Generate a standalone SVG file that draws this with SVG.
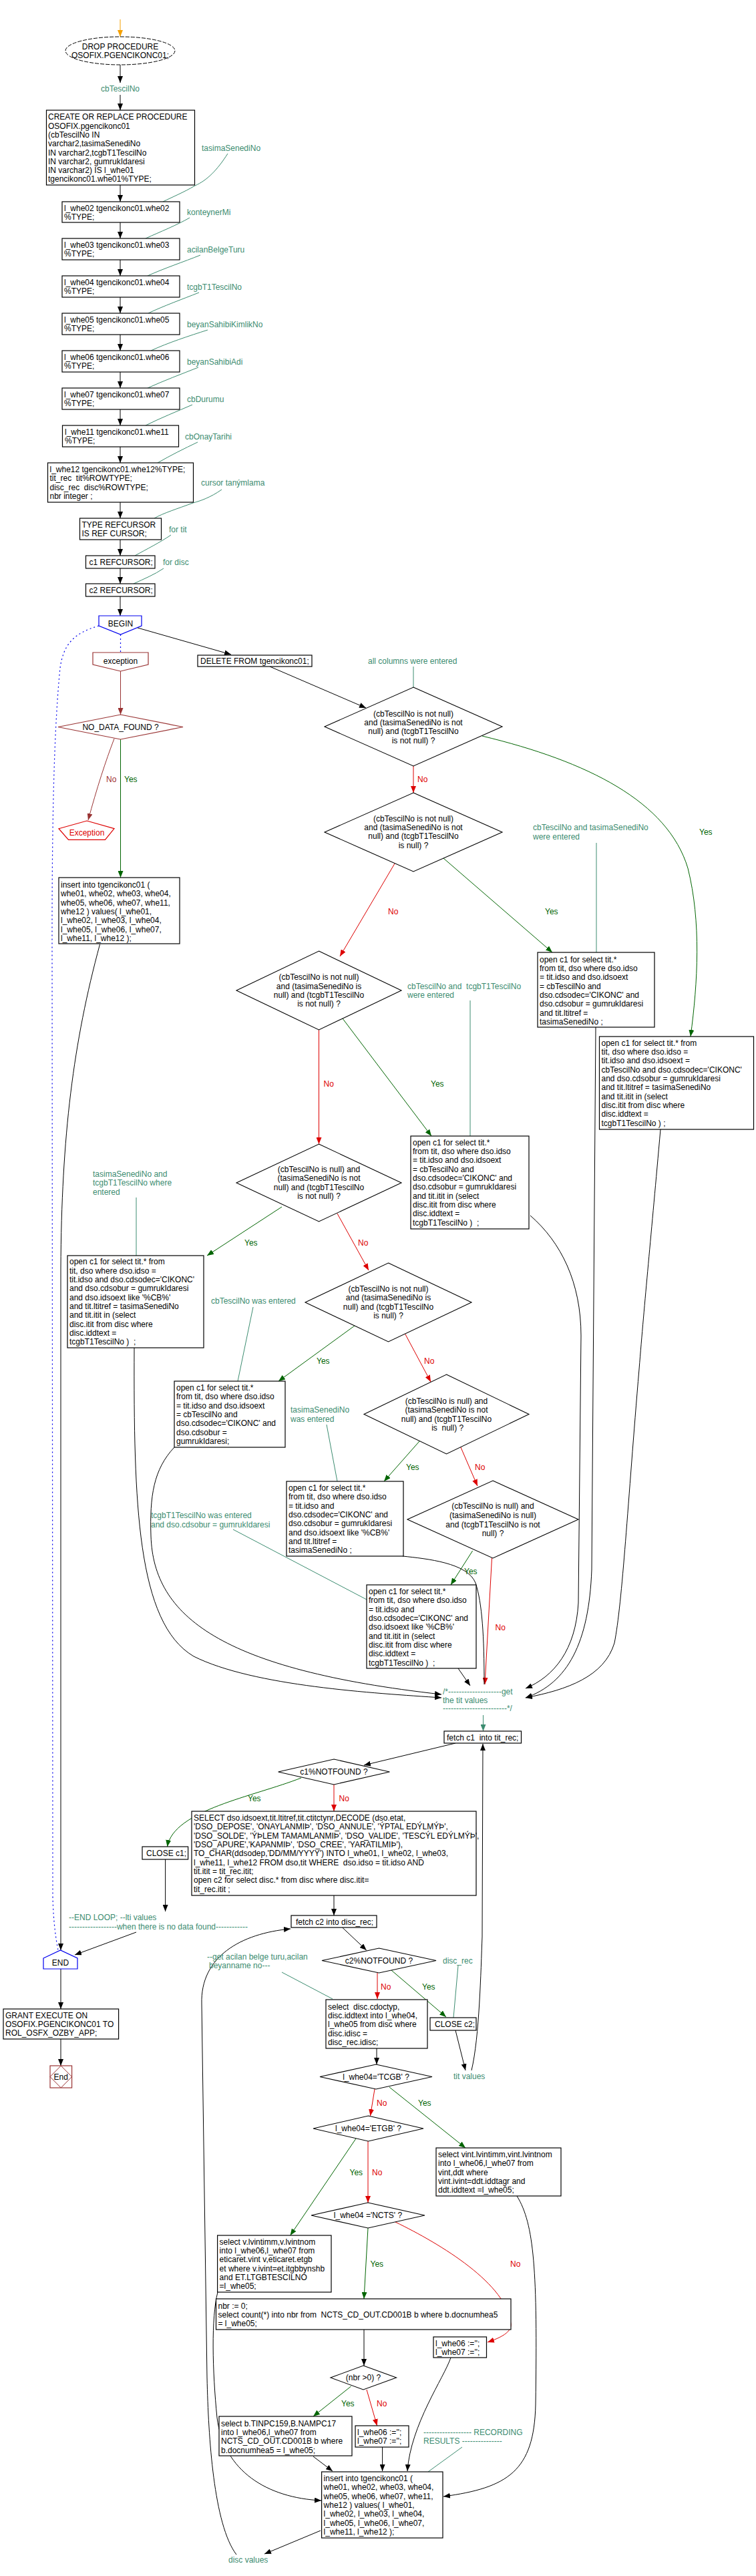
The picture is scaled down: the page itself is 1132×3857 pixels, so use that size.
<svg xmlns="http://www.w3.org/2000/svg" width="1132" height="3857" viewBox="0 0 1132 3857">
<defs>
<style>
text{font-family:"Liberation Sans",Arial,sans-serif;font-size:12px;fill:#000;white-space:pre}
.c{text-anchor:middle}
.lb{fill:#3c8c70}
.gt{fill:#006400}
.rt{fill:#dd0000}
.bt{fill:#a03030}
.box{fill:#fff;stroke:#000;stroke-width:1.2}
.dia{fill:#fff;stroke:#000;stroke-width:1.1}
.k{fill:none;stroke:#000;stroke-width:1}
.g{fill:none;stroke:#006400;stroke-width:1}
.r{fill:none;stroke:#dd0000;stroke-width:1}
.br{fill:none;stroke:#993333;stroke-width:1}
.tl{fill:none;stroke:#3c8c70;stroke-width:1}
.bl{fill:none;stroke:#0000ee;stroke-width:1.2;stroke-dasharray:2 4}
</style>
<marker id="ak" viewBox="0 0 10 8" refX="10" refY="4" markerWidth="10" markerHeight="8" markerUnits="userSpaceOnUse" orient="auto"><path d="M0,0 L10,4 L0,8 z" fill="#000"/></marker>
<marker id="ag" viewBox="0 0 10 8" refX="10" refY="4" markerWidth="10" markerHeight="8" markerUnits="userSpaceOnUse" orient="auto"><path d="M0,0 L10,4 L0,8 z" fill="#006400"/></marker>
<marker id="ar" viewBox="0 0 10 8" refX="10" refY="4" markerWidth="10" markerHeight="8" markerUnits="userSpaceOnUse" orient="auto"><path d="M0,0 L10,4 L0,8 z" fill="#dd0000"/></marker>
<marker id="ab" viewBox="0 0 10 8" refX="10" refY="4" markerWidth="10" markerHeight="8" markerUnits="userSpaceOnUse" orient="auto"><path d="M0,0 L10,4 L0,8 z" fill="#993333"/></marker>
<marker id="at" viewBox="0 0 10 8" refX="10" refY="4" markerWidth="10" markerHeight="8" markerUnits="userSpaceOnUse" orient="auto"><path d="M0,0 L10,4 L0,8 z" fill="#3c8c70"/></marker>
<marker id="ao" viewBox="0 0 10 8" refX="10" refY="4" markerWidth="10" markerHeight="8" markerUnits="userSpaceOnUse" orient="auto"><path d="M0,0 L10,4 L0,8 z" fill="#f5a000"/></marker>
</defs>
<rect width="1132" height="3857" fill="#fff"/>

<g id="connectors">
<path d="M180,29 L180,55" stroke="#f5a000" stroke-width="1" fill="none" marker-end="url(#ao)"/>
<path class="k" d="M180,97 L180,124" marker-end="url(#ak)"/>
<path class="k" d="M180,142 L180,165" marker-end="url(#ak)"/>
<path class="k" d="M180,277 L180,302" marker-end="url(#ak)"/>
<path class="k" d="M180,333 L180,357" marker-end="url(#ak)"/>
<path class="k" d="M180,389 L180,413" marker-end="url(#ak)"/>
<path class="k" d="M180,445 L180,469" marker-end="url(#ak)"/>
<path class="k" d="M180,501 L180,525" marker-end="url(#ak)"/>
<path class="k" d="M180,557 L180,581" marker-end="url(#ak)"/>
<path class="k" d="M180,613 L180,637" marker-end="url(#ak)"/>
<path class="k" d="M180,669 L180,693" marker-end="url(#ak)"/>
<path class="k" d="M180,752 L180,776" marker-end="url(#ak)"/>
<path class="k" d="M180,808 L180,832" marker-end="url(#ak)"/>
<path class="k" d="M180,851 L180,874" marker-end="url(#ak)"/>
<path class="k" d="M180,893 L180,922" marker-end="url(#ak)"/>
<!-- leaders top -->
<path class="tl" d="M341,230 C325,255 310,270 292,278 C275,288 258,295 244,302"/>
<path class="tl" d="M284,326 C265,337 240,347 218,357"/>
<path class="tl" d="M300,382 C275,392 245,402 221,413"/>
<path class="tl" d="M298,438 C273,448 245,458 222,469"/>
<path class="tl" d="M311,494 C283,503 252,513 226,525"/>
<path class="tl" d="M297,550 C272,560 245,570 221,581"/>
<path class="tl" d="M288,606 C265,616 240,626 218,637"/>
<path class="tl" d="M296,662 C275,672 255,682 236,693"/>
<path class="tl" d="M332,733 C315,745 300,750 289,753 C265,762 245,768 231,776"/>
<path class="tl" d="M256,801 C240,812 220,822 202,832"/>
<path class="tl" d="M245,851 C232,860 215,867 200,874"/>
<!-- begin -->
<path class="k" d="M206,940 L346,980" marker-end="url(#ak)"/>
<path class="bl" d="M180.5,950 L180.5,977"/>
<path class="bl" d="M148,937 C110,948 95,965 90,1000 C82,1080 78,1200 78,1400 L79,2840 C80,2880 84,2905 87,2920"/>
<path class="k" d="M404,998 L548,1060" marker-end="url(#ak)"/>
<!-- exception path -->
<path class="br" d="M180.5,1005 L180.5,1070" marker-end="url(#ab)"/>
<path class="br" d="M171,1106 C158,1140 145,1180 132,1228" marker-end="url(#ab)"/>
<path class="g" d="M180.5,1107 L180.5,1314" marker-end="url(#ag)"/>
<path class="k" d="M149.5,1414 C110,1560 92,1700 91,1900 L91,2920" marker-end="url(#ak)"/>
<!-- decision chain -->
<path class="tl" d="M619,998 L619,1029"/>
<path class="r" d="M619,1147 L619,1187" marker-end="url(#ar)"/>
<path class="g" d="M722,1102 C880,1140 1000,1200 1030,1300 C1050,1380 1045,1470 1034,1552" marker-end="url(#ag)"/>
<path class="tl" d="M893,1262 L893,1426"/>
<path class="g" d="M664,1285 L827,1426" marker-end="url(#ag)"/>
<path class="r" d="M591,1293 L509,1432" marker-end="url(#ar)"/>
<path class="tl" d="M704,1498 L704,1701"/>
<path class="g" d="M513,1525 L646,1701" marker-end="url(#ag)"/>
<path class="r" d="M477.5,1542 L477.5,1713" marker-end="url(#ar)"/>
<path class="tl" d="M204,1793 L204,1880"/>
<path class="g" d="M422,1807 L310,1880" marker-end="url(#ag)"/>
<path class="r" d="M505,1817 L552,1902" marker-end="url(#ar)"/>
<path class="tl" d="M379,1957 L356,2068"/>
<path class="g" d="M531,1985 L417,2068" marker-end="url(#ag)"/>
<path class="r" d="M606.5,1997 L645,2069" marker-end="url(#ar)"/>
<path class="tl" d="M489,2133 L505,2218"/>
<path class="g" d="M628,2158 L575,2218" marker-end="url(#ag)"/>
<path class="r" d="M689.5,2166 L715,2225" marker-end="url(#ar)"/>
<path class="tl" d="M349,2290 L549,2395"/>
<path class="g" d="M707.6,2322 L675,2373" marker-end="url(#ag)"/>
<path class="r" d="M736.5,2333 L726,2522" marker-end="url(#ar)"/>
<!-- into tit values comment -->
<path class="k" d="M686,2498 L704,2524" marker-end="url(#ak)"/>
<path class="k" d="M603,2330 C640,2334 700,2340 712,2370 C722,2400 725,2450 725,2522"/>
<path class="k" d="M201,2018 C200,2250 205,2430 290,2480 C380,2525 560,2535 661,2542" marker-end="url(#ak)"/>
<path class="k" d="M261,2167 C230,2200 224,2240 226,2300 C230,2420 330,2500 661,2537" marker-end="url(#ak)"/>
<path class="k" d="M794,1820 C840,1860 870,1920 870,2000 L866,2400 C862,2470 830,2510 787,2528" marker-end="url(#ak)"/>
<path class="k" d="M892,1538 L886,2350 C882,2460 850,2520 787,2542" marker-end="url(#ak)"/>
<path class="k" d="M989,1691 C975,1850 965,1950 957,2050 C940,2250 932,2400 920,2460 C905,2510 850,2530 787,2542" marker-end="url(#ak)"/>
<path class="tl" d="M723.5,2568 L723.5,2592" marker-end="url(#at)"/>
<!-- loop c1 -->
<path class="k" d="M682,2610 L545,2643" marker-end="url(#ak)"/>
<path class="g" d="M451,2662 C380,2690 260,2710 250.5,2765" marker-end="url(#ag)"/>
<path class="r" d="M500,2672 L500,2712" marker-end="url(#ar)"/>
<path class="k" d="M247.6,2784 L247.6,2862" marker-end="url(#ak)"/>
<path class="k" d="M204,2893 L112,2927" marker-end="url(#ak)"/>
<path class="k" d="M500,2838 L500,2868" marker-end="url(#ak)"/>
<path class="k" d="M512.6,2886 L548.7,2920" marker-end="url(#ak)"/>
<path class="r" d="M565,2954 L565,2993" marker-end="url(#ar)"/>
<path class="g" d="M586,2950 L668,3020" marker-end="url(#ag)"/>
<path class="tl" d="M686,2943 L679,3021"/>
<path class="tl" d="M422,2953 L498,2993"/>
<path class="k" d="M682,3040 L697,3100" marker-end="url(#ak)"/>
<path class="k" d="M706,3100 C718,3050 720,2950 722,2900 L723,2611" marker-end="url(#ak)"/>
<path class="k" d="M564,3067 L564,3091" marker-end="url(#ak)"/>
<path class="r" d="M561,3128 L554.5,3168" marker-end="url(#ar)"/>
<path class="g" d="M583,3125 L697,3216" marker-end="url(#ag)"/>
<path class="g" d="M533,3202 L434.6,3347" marker-end="url(#ag)"/>
<path class="r" d="M551,3206 L551,3298" marker-end="url(#ar)"/>
<path class="g" d="M551,3336 L545,3442" marker-end="url(#ag)"/>
<path class="r" d="M592,3327 C660,3360 760,3420 765,3480 C766,3492 750,3500 730,3507" marker-end="url(#ar)"/>
<path class="k" d="M545,3488 L545,3542" marker-end="url(#ak)"/>
<path class="g" d="M525.6,3573 L469,3618" marker-end="url(#ag)"/>
<path class="r" d="M549,3578 L564.6,3632" marker-end="url(#ar)"/>
<path class="k" d="M469,3678 L498,3700" marker-end="url(#ak)"/>
<path class="k" d="M572.6,3664 L572.6,3700" marker-end="url(#ak)"/>
<path class="k" d="M675,3530 C665,3560 615,3630 610,3700" marker-end="url(#ak)"/>
<path class="k" d="M774,3288 C800,3330 805,3400 802,3600 C800,3700 760,3725 664,3738" marker-end="url(#ak)"/>
<path class="k" d="M326,3432 C316,3470 318,3550 325,3620 C335,3700 400,3740 481,3744" marker-end="url(#ak)"/>
<path class="tl" d="M692,3664 L641,3701"/>
<path class="k" d="M480,3789 L396,3824" marker-end="url(#ak)"/>
<path class="k" d="M354,3825 C320,3780 312,3650 310,3560 L302,3000 C300,2930 360,2895 435,2888" marker-end="url(#ak)"/>
<path class="k" d="M91,2948 L91,3008" marker-end="url(#ak)"/>
<path class="k" d="M91,3053 L91,3093" marker-end="url(#ak)"/>
</g>

<g id="n_drop"><ellipse cx="180" cy="76" rx="82" ry="21" fill="#fff" stroke="#000" stroke-width="1" stroke-dasharray="6 2"/>
<text class="c" x="180" y="74">DROP PROCEDURE</text><text class="c" x="180" y="87">OSOFIX.PGENCIKONC01;</text></g>
<g id="l_cbTescilNo"><text class="c lb" x="180" y="137">cbTescilNo</text></g>
<g id="n_create"><rect class="box" x="69.5" y="165" width="222" height="112"/>
<text x="72" y="179">CREATE OR REPLACE PROCEDURE</text><text x="72" y="193">OSOFIX.pgencikonc01</text><text x="72" y="206">(cbTescilNo IN</text><text x="72" y="219">varchar2,tasimaSenediNo</text><text x="72" y="233">IN varchar2,tcgbT1TescilNo</text><text x="72" y="246">IN varchar2, gumrukIdaresi</text><text x="72" y="259">IN varchar2) IS l_whe01</text><text x="72" y="272">tgencikonc01.whe01%TYPE;</text></g>
<g id="n_whe02"><rect class="box" x="93" y="302" width="176" height="31"/><text x="96" y="315.5">l_whe02 tgencikonc01.whe02</text><text x="96" y="328.5">%TYPE;</text></g>
<g id="n_whe03"><rect class="box" x="93" y="357" width="176" height="32"/><text x="96" y="371">l_whe03 tgencikonc01.whe03</text><text x="96" y="384">%TYPE;</text></g>
<g id="n_whe04"><rect class="box" x="93" y="413" width="176" height="32"/><text x="96" y="427">l_whe04 tgencikonc01.whe04</text><text x="96" y="440">%TYPE;</text></g>
<g id="n_whe05"><rect class="box" x="93" y="469" width="176" height="32"/><text x="96" y="483">l_whe05 tgencikonc01.whe05</text><text x="96" y="496">%TYPE;</text></g>
<g id="n_whe06"><rect class="box" x="93" y="525" width="176" height="32"/><text x="96" y="539">l_whe06 tgencikonc01.whe06</text><text x="96" y="552">%TYPE;</text></g>
<g id="n_whe07"><rect class="box" x="93" y="581" width="176" height="32"/><text x="96" y="595">l_whe07 tgencikonc01.whe07</text><text x="96" y="608">%TYPE;</text></g>
<g id="n_whe11"><rect class="box" x="93.5" y="637" width="174" height="32"/><text x="97" y="651">l_whe11 tgencikonc01.whe11</text><text x="97" y="664">%TYPE;</text></g>
<g id="n_whe12"><rect class="box" x="71.5" y="693" width="218" height="59"/><text x="74.5" y="707">l_whe12 tgencikonc01.whe12%TYPE;</text><text x="74.5" y="720">tit_rec  tit%ROWTYPE;</text><text x="74.5" y="734">disc_rec  disc%ROWTYPE;</text><text x="74.5" y="747">nbr integer ;</text></g>
<g id="n_type"><rect class="box" x="119.5" y="776" width="122" height="32"/><text x="122.5" y="790">TYPE REFCURSOR</text><text x="122.5" y="803">IS REF CURSOR;</text></g>
<g id="n_c1"><rect class="box" x="128.5" y="832" width="103.5" height="19"/><text x="133.5" y="846">c1 REFCURSOR;</text></g>
<g id="n_c2"><rect class="box" x="128.5" y="874" width="103.5" height="19"/><text x="133.5" y="888">c2 REFCURSOR;</text></g>
<g id="labels_top">
<text class="lb" x="302" y="226">tasimaSenediNo</text>
<text class="lb" x="280" y="322">konteynerMi</text>
<text class="lb" x="280" y="378">acilanBelgeTuru</text>
<text class="lb" x="280" y="434">tcgbT1TescilNo</text>
<text class="lb" x="280" y="490">beyanSahibiKimlikNo</text>
<text class="lb" x="280" y="546">beyanSahibiAdi</text>
<text class="lb" x="280" y="602">cbDurumu</text>
<text class="lb" x="277" y="658">cbOnayTarihi</text>
<text class="lb" x="301" y="727">cursor tanýmlama</text>
<text class="lb" x="253" y="797">for tit</text>
<text class="lb" x="244" y="846">for disc</text>
</g>
<g id="n_begin"><path d="M148,922 L212,922 L212,937 L180.5,950 L148,937 Z" fill="#fff" stroke="#0000ee" stroke-width="1.2"/><text class="c" x="180.5" y="938">BEGIN</text></g>
<g id="n_delete"><rect class="box" x="296" y="981" width="171" height="17"/><text x="300" y="994">DELETE FROM tgencikonc01;</text></g>
<g id="n_exception"><path d="M139,977 L222,977 L222,995 L180.5,1005 L139,995 Z" fill="#fff" stroke="#993333" stroke-width="1.2"/><text class="c" x="180.5" y="994">exception</text></g>
<g id="n_nodata"><path d="M180.5,1070 L274,1088.5 L180.5,1107 L87,1088.5 Z" fill="#fff" stroke="#993333" stroke-width="1.2"/><text class="c" x="180.5" y="1093">NO_DATA_FOUND ?</text></g>
<g id="n_exc2"><path d="M130,1229 L171,1240.7 L157.4,1257.3 L102.5,1257.3 L88,1240.7 Z" fill="#fff" stroke="#dd0000" stroke-width="1.2"/><text class="c rt" x="130" y="1251">Exception</text></g>
<g id="n_insert1"><rect class="box" x="88" y="1314" width="181" height="99"/><text x="91" y="1329">insert into tgencikonc01 (</text><text x="91" y="1342">whe01, whe02, whe03, whe04,</text><text x="91" y="1356">whe05, whe06, whe07, whe11,</text><text x="91" y="1369">whe12 ) values( l_whe01,</text><text x="91" y="1382">l_whe02, l_whe03, l_whe04,</text><text x="91" y="1396">l_whe05, l_whe06, l_whe07,</text><text x="91" y="1409">l_whe11, l_whe12 );</text></g>

<g id="n_d1"><path class="dia" d="M619,1029 L752,1088 L619,1147 L486,1088 Z"/><text class="c" x="619" y="1073">(cbTescilNo is not null)</text><text class="c" x="619" y="1086">and (tasimaSenediNo is not</text><text class="c" x="619" y="1099">null) and (tcgbT1TescilNo</text><text class="c" x="619" y="1113">is not null) ?</text></g>
<g id="n_d2"><path class="dia" d="M619,1187 L752,1246 L619,1305 L486,1246 Z"/><text class="c" x="619" y="1230">(cbTescilNo is not null)</text><text class="c" x="619" y="1243">and (tasimaSenediNo is not</text><text class="c" x="619" y="1256">null) and (tcgbT1TescilNo</text><text class="c" x="619" y="1270">is null) ?</text></g>
<g id="n_d3"><path class="dia" d="M477.5,1424 L601,1483 L477.5,1542 L354,1483 Z"/><text class="c" x="477.5" y="1467">(cbTescilNo is not null)</text><text class="c" x="477.5" y="1481">and (tasimaSenediNo is</text><text class="c" x="477.5" y="1494">null) and (tcgbT1TescilNo</text><text class="c" x="477.5" y="1507">is not null) ?</text></g>
<g id="n_d4"><path class="dia" d="M477.5,1713 L601,1771 L477.5,1829 L354,1771 Z"/><text class="c" x="477.5" y="1755">(cbTescilNo is null) and</text><text class="c" x="477.5" y="1768">(tasimaSenediNo is not</text><text class="c" x="477.5" y="1782">null) and (tcgbT1TescilNo</text><text class="c" x="477.5" y="1795">is not null) ?</text></g>
<g id="n_d5"><path class="dia" d="M581.5,1891 L706,1950 L581.5,2009 L457,1950 Z"/><text class="c" x="581.5" y="1934">(cbTescilNo is not null)</text><text class="c" x="581.5" y="1947">and (tasimaSenediNo is</text><text class="c" x="581.5" y="1961">null) and (tcgbT1TescilNo</text><text class="c" x="581.5" y="1974">is null) ?</text></g>
<g id="n_d6"><path class="dia" d="M668.5,2058 L792,2117.5 L668.5,2177 L545,2117.5 Z"/><text class="c" x="668.5" y="2102">(cbTescilNo is null) and</text><text class="c" x="668.5" y="2115">(tasimaSenediNo is not</text><text class="c" x="668.5" y="2129">null) and (tcgbT1TescilNo</text><text class="c" x="668.5" y="2142"> is  null) ?</text></g>
<g id="n_d7"><path class="dia" d="M738,2217 L866,2275 L738,2333 L610,2275 Z"/><text class="c" x="738" y="2259">(cbTescilNo is null) and</text><text class="c" x="738" y="2273">(tasimaSenediNo is null)</text><text class="c" x="738" y="2287">and (tcgbT1TescilNo is not</text><text class="c" x="738" y="2300">null) ?</text></g>

<g id="n_boxA"><rect class="box" x="897.5" y="1552" width="231" height="139"/><text x="900.5" y="1566">open c1 for select tit.* from</text><text x="900.5" y="1579">tit, dso where dso.idso =</text><text x="900.5" y="1592">tit.idso and dso.idsoext =</text><text x="900.5" y="1606">cbTescilNo and dso.cdsodec='CIKONC'</text><text x="900.5" y="1619">and dso.cdsobur = gumrukIdaresi</text><text x="900.5" y="1632">and tit.ltitref = tasimaSenediNo</text><text x="900.5" y="1646">and tit.itit in (select</text><text x="900.5" y="1659">disc.itit from disc where</text><text x="900.5" y="1672">disc.iddtext =</text><text x="900.5" y="1686">tcgbT1TescilNo ) ;</text></g>
<g id="n_boxB"><rect class="box" x="805" y="1426" width="175" height="112"/><text x="808" y="1441">open c1 for select tit.*</text><text x="808" y="1454">from tit, dso where dso.idso</text><text x="808" y="1467">= tit.idso and dso.idsoext</text><text x="808" y="1481">= cbTescilNo and</text><text x="808" y="1494">dso.cdsodec='CIKONC' and</text><text x="808" y="1507">dso.cdsobur = gumrukIdaresi</text><text x="808" y="1521">and tit.ltitref =</text><text x="808" y="1534">tasimaSenediNo ;</text></g>
<g id="n_boxC"><rect class="box" x="615" y="1701" width="177" height="139"/><text x="618" y="1715">open c1 for select tit.*</text><text x="618" y="1728">from tit, dso where dso.idso</text><text x="618" y="1741">= tit.idso and dso.idsoext</text><text x="618" y="1755">= cbTescilNo and</text><text x="618" y="1768">dso.cdsodec='CIKONC' and</text><text x="618" y="1781">dso.cdsobur = gumrukIdaresi</text><text x="618" y="1795">and tit.itit in (select</text><text x="618" y="1808">disc.itit from disc where</text><text x="618" y="1821">disc.iddtext =</text><text x="618" y="1835">tcgbT1TescilNo )  ;</text></g>
<g id="n_boxD"><rect class="box" x="101" y="1880" width="204" height="138"/><text x="104" y="1893">open c1 for select tit.* from</text><text x="104" y="1907">tit, dso where dso.idso =</text><text x="104" y="1920">tit.idso and dso.cdsodec='CIKONC'</text><text x="104" y="1933">and dso.cdsobur = gumrukIdaresi</text><text x="104" y="1947">and dso.idsoext like '%CB%'</text><text x="104" y="1960">and tit.ltitref = tasimaSenediNo</text><text x="104" y="1973">and tit.itit in (select</text><text x="104" y="1987">disc.itit from disc where</text><text x="104" y="2000">disc.iddtext =</text><text x="104" y="2013">tcgbT1TescilNo )  ;</text></g>
<g id="n_boxE"><rect class="box" x="261" y="2068" width="166" height="99"/><text x="264" y="2082">open c1 for select tit.*</text><text x="264" y="2095">from tit, dso where dso.idso</text><text x="264" y="2109">= tit.idso and dso.idsoext</text><text x="264" y="2122">= cbTescilNo and</text><text x="264" y="2135">dso.cdsodec='CIKONC' and</text><text x="264" y="2149">dso.cdsobur =</text><text x="264" y="2162">gumrukIdaresi;</text></g>
<g id="n_boxF"><rect class="box" x="429" y="2218" width="175" height="112"/><text x="432" y="2232">open c1 for select tit.*</text><text x="432" y="2245">from tit, dso where dso.idso</text><text x="432" y="2259">= tit.idso and</text><text x="432" y="2272">dso.cdsodec='CIKONC' and</text><text x="432" y="2285">dso.cdsobur = gumrukIdaresi</text><text x="432" y="2299">and dso.idsoext like '%CB%'</text><text x="432" y="2312">and tit.ltitref =</text><text x="432" y="2325">tasimaSenediNo ;</text></g>
<g id="n_boxG"><rect class="box" x="549" y="2373" width="164" height="125"/><text x="552" y="2387">open c1 for select tit.*</text><text x="552" y="2400">from tit, dso where dso.idso</text><text x="552" y="2414">= tit.idso and</text><text x="552" y="2427">dso.cdsodec='CIKONC' and</text><text x="552" y="2440">dso.idsoext like '%CB%'</text><text x="552" y="2454">and tit.itit in (select</text><text x="552" y="2467">disc.itit from disc where</text><text x="552" y="2480">disc.iddtext =</text><text x="552" y="2494">tcgbT1TescilNo )  ;</text></g>

<g id="labels_mid">
<text class="lb" x="551" y="994">all columns were entered</text>
<text class="lb" x="798" y="1243">cbTescilNo and tasimaSenediNo</text><text class="lb" x="798" y="1257">were entered</text>
<text class="lb" x="610" y="1481">cbTescilNo and  tcgbT1TescilNo</text><text class="lb" x="610" y="1494">were entered</text>
<text class="lb" x="139" y="1762">tasimaSenediNo and</text><text class="lb" x="139" y="1775">tcgbT1TescilNo where</text><text class="lb" x="139" y="1789">entered</text>
<text class="lb" x="316" y="1952">cbTescilNo was entered</text>
<text class="lb" x="435" y="2115">tasimaSenediNo</text><text class="lb" x="435" y="2129">was entered</text>
<text class="lb" x="226" y="2273">tcgbT1TescilNo was entered</text><text class="lb" x="226" y="2287">and dso.cdsobur = gumrukIdaresi</text>
</g>
<g id="yesno">
<text class="bt" x="159" y="1171">No</text><text class="gt" x="186" y="1171">Yes</text>
<text class="rt" x="625" y="1171">No</text><text class="gt" x="1047" y="1250">Yes</text>
<text class="gt" x="816" y="1369">Yes</text><text class="rt" x="581" y="1369">No</text>
<text class="gt" x="645" y="1627">Yes</text><text class="rt" x="484.5" y="1627">No</text>
<text class="gt" x="366" y="1865">Yes</text><text class="rt" x="536" y="1865">No</text>
<text class="gt" x="474" y="2042">Yes</text><text class="rt" x="635" y="2042">No</text>
<text class="gt" x="608" y="2201">Yes</text><text class="rt" x="711" y="2201">No</text>
<text class="gt" x="695" y="2357">Yes</text><text class="rt" x="741.5" y="2441">No</text>
<text class="gt" x="371" y="2697">Yes</text><text class="rt" x="507.6" y="2697">No</text>
<text class="rt" x="570" y="2979">No</text><text class="gt" x="632" y="2979">Yes</text>
<text class="rt" x="564" y="3153">No</text><text class="gt" x="626" y="3153">Yes</text>
<text class="gt" x="523.5" y="3257">Yes</text><text class="rt" x="557" y="3257">No</text>
<text class="gt" x="554.5" y="3394">Yes</text><text class="rt" x="764" y="3394">No</text>
<text class="gt" x="511" y="3603">Yes</text><text class="rt" x="564" y="3603">No</text>
</g>

<g id="l_comment"><text class="lb" x="663" y="2537">/*--------------------get</text><text class="lb" x="663" y="2550">the tit values</text><text class="lb" x="663" y="2562">------------------------*/</text></g>
<g id="n_fetch1"><rect class="box" x="665" y="2592" width="115.5" height="18"/><text x="669" y="2606">fetch c1  into tit_rec;</text></g>
<g id="n_c1nf"><path class="dia" d="M500,2634 L583.4,2653 L500,2672 L416.6,2653 Z"/><text class="c" x="500" y="2657">c1%NOTFOUND ?</text></g>
<g id="n_select"><rect class="box" x="287" y="2712" width="426" height="126"/><text x="290" y="2726">SELECT dso.idsoext,tit.ltitref,tit.ctitctynr,DECODE (dso.etat,</text><text x="290" y="2739">'DSO_DEPOSE', 'ONAYLANMIÞ', 'DSO_ANNULE', 'ÝPTAL EDÝLMÝÞ',</text><text x="290" y="2753">'DSO_SOLDE', 'ÝÞLEM TAMAMLANMIÞ', 'DSO_VALIDE', 'TESCÝL EDÝLMÝÞ',</text><text x="290" y="2766">'DSO_APURE','KAPANMIÞ', 'DSO_CREE', 'YARATILMIÞ'),</text><text x="290" y="2779">TO_CHAR(ddsodep,'DD/MM/YYYY') INTO l_whe01, l_whe02, l_whe03,</text><text x="290" y="2793">l_whe11, l_whe12 FROM dso,tit WHERE  dso.idso = tit.idso AND</text><text x="290" y="2806">tit.itit = tit_rec.itit;</text><text x="290" y="2819">open c2 for select disc.* from disc where disc.itit=</text><text x="290" y="2833">tit_rec.itit ;</text></g>
<g id="n_close1"><rect class="box" x="213" y="2765" width="68.6" height="19"/><text x="219" y="2779">CLOSE c1;</text></g>
<g id="l_endloop"><text class="lb" x="103" y="2875">--END LOOP; --lti values</text><text class="lb" x="103" y="2889">------------------when there is no data found------------</text></g>
<g id="n_end"><path d="M65,2932 L90.5,2920 L116,2932 L116,2948 L65,2948 Z" fill="#fff" stroke="#0000ee" stroke-width="1.2"/><text class="c" x="90.5" y="2943">END</text></g>
<g id="n_grant"><rect class="box" x="5" y="3008" width="172.6" height="45"/><text x="8" y="3022">GRANT EXECUTE ON</text><text x="8" y="3035">OSOFIX.PGENCIKONC01 TO</text><text x="8" y="3048">ROL_OSFX_OZBY_APP;</text></g>
<g id="n_endterm"><rect x="75" y="3093" width="32.6" height="33" fill="#fff" stroke="#993333" stroke-width="1.2"/><path d="M91.3,3093 L107.6,3109.5 L91.3,3126 L75,3109.5 Z" fill="none" stroke="#993333" stroke-width="1"/><text class="c" x="91.3" y="3114">End</text></g>
<g id="n_fetch2"><rect class="box" x="436" y="2868" width="128" height="18"/><text x="443" y="2882">fetch c2 into disc_rec;</text></g>
<g id="n_c2nf"><path class="dia" d="M567.5,2917 L653,2935.5 L567.5,2954 L482,2935.5 Z"/><text class="c" x="567.5" y="2940">c2%NOTFOUND ?</text></g>
<g id="labels_low">
<text class="lb" x="663" y="2940">disc_rec</text>
<text class="lb" x="310" y="2934">--get acilan belge turu,acilan</text><text class="lb" x="313" y="2947">beyanname no---</text>
<text class="lb" x="679" y="3113">tit values</text>
<text class="lb" x="634" y="3646">------------------ RECORDING</text><text class="lb" x="634" y="3659">RESULTS ---------------</text>
<text class="lb" x="342" y="3837">disc values</text>
</g>
<g id="n_seldisc"><rect class="box" x="488" y="2994" width="152" height="73"/><text x="491" y="3009">select  disc.cdoctyp,</text><text x="491" y="3022">disc.iddtext into l_whe04,</text><text x="491" y="3035">l_whe05 from disc where</text><text x="491" y="3049">disc.idisc =</text><text x="491" y="3062">disc_rec.idisc;</text></g>
<g id="n_close2"><rect class="box" x="644" y="3021" width="69" height="19"/><text x="651" y="3035">CLOSE c2;</text></g>
<g id="n_tcgb"><path class="dia" d="M563,3091 L647,3109.5 L563,3128 L479,3109.5 Z"/><text class="c" x="563" y="3114">l_whe04='TCGB' ?</text></g>
<g id="n_etgb"><path class="dia" d="M551.5,3168 L634,3187 L551.5,3206 L469,3187 Z"/><text class="c" x="551.5" y="3191">l_whe04='ETGB' ?</text></g>
<g id="n_vint"><rect class="box" x="653" y="3216" width="187" height="72"/><text x="656" y="3230">select vint.lvintimm,vint.lvintnom</text><text x="656" y="3243">into l_whe06,l_whe07 from</text><text x="656" y="3257">vint,ddt where</text><text x="656" y="3270">vint.ivint=ddt.iddtagr and</text><text x="656" y="3283">ddt.iddtext =l_whe05;</text></g>
<g id="n_ncts"><path class="dia" d="M551,3298 L636,3317 L551,3336 L466,3317 Z"/><text class="c" x="551" y="3321">l_whe04 ='NCTS' ?</text></g>
<g id="n_etic"><rect class="box" x="325.6" y="3347" width="170.4" height="85"/><text x="328.6" y="3361">select v.lvintimm,v.lvintnom</text><text x="328.6" y="3374">into l_whe06,l_whe07 from</text><text x="328.6" y="3387">eticaret.vint v,eticaret.etgb</text><text x="328.6" y="3401">et where v.ivint=et.itgbbynshb</text><text x="328.6" y="3414">and ET.LTGBTESCILNO</text><text x="328.6" y="3427">=l_whe05;</text></g>
<g id="n_nbr"><rect class="box" x="323.5" y="3442" width="441.5" height="46"/><text x="326.5" y="3457">nbr := 0;</text><text x="326.5" y="3470">select count(*) into nbr from  NCTS_CD_OUT.CD001B b where b.docnumhea5</text><text x="326.5" y="3483">= l_whe05;</text></g>
<g id="n_empty1"><rect class="box" x="649" y="3499" width="79.5" height="31"/><text x="652" y="3513">l_whe06 :='';</text><text x="652" y="3526">l_whe07 :='';</text></g>
<g id="n_nbrgt"><path class="dia" d="M544,3542 L593.5,3560 L544,3578 L495,3560 Z"/><text class="c" x="544" y="3564">(nbr &gt;0) ?</text></g>
<g id="n_tinpc"><rect class="box" x="328" y="3618" width="199" height="59"/><text x="331" y="3633">select b.TINPC159,B.NAMPC17</text><text x="331" y="3646">into l_whe06,l_whe07 from</text><text x="331" y="3659">NCTS_CD_OUT.CD001B b where</text><text x="331" y="3673">b.docnumhea5 = l_whe05;</text></g>
<g id="n_empty2"><rect class="box" x="532" y="3632" width="80" height="32"/><text x="535" y="3646">l_whe06 :='';</text><text x="535" y="3659">l_whe07 :='';</text></g>
<g id="n_insert2"><rect class="box" x="481.6" y="3701" width="181.4" height="99"/><text x="484.6" y="3715">insert into tgencikonc01 (</text><text x="484.6" y="3728">whe01, whe02, whe03, whe04,</text><text x="484.6" y="3742">whe05, whe06, whe07, whe11,</text><text x="484.6" y="3755">whe12 ) values( l_whe01,</text><text x="484.6" y="3768">l_whe02, l_whe03, l_whe04,</text><text x="484.6" y="3782">l_whe05, l_whe06, l_whe07,</text><text x="484.6" y="3795">l_whe11, l_whe12 );</text></g>
</svg>
